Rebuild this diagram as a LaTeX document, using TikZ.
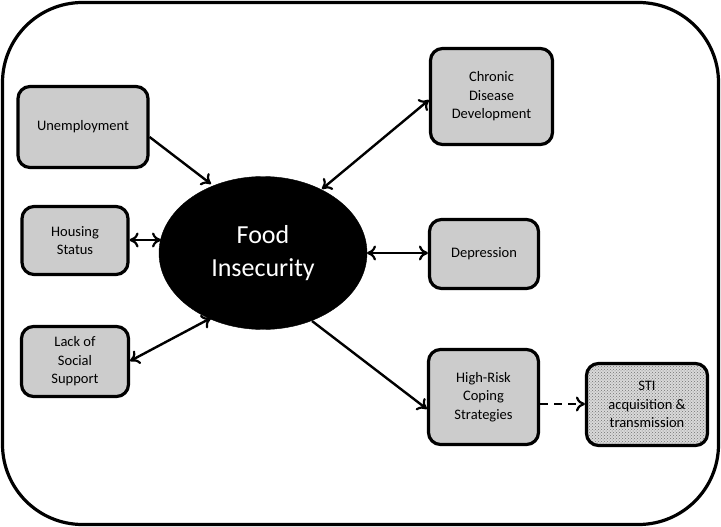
\documentclass[tikz,border=0pt]{standalone}
\usepackage{fontspec}
\setmainfont{Carlito}
\usetikzlibrary{patterns,shapes.geometric,arrows.meta}
\begin{document}
\begin{tikzpicture}[x=1pt,y=-1pt,
  box/.style={draw=black,line width=3.2pt,rounded corners=12pt,fill=black!20,align=center,
    font=\fontsize{14.5}{18.5}\selectfont,inner sep=0pt},
  tip/.tip={To[length=9pt,width=15pt,line width=2.2pt]},
  conn/.style={line width=2.4pt,-tip},
  bconn/.style={line width=2.4pt,tip-tip}]
\useasboundingbox (0,0) rectangle (721,527);
\draw[line width=3.2pt,rounded corners=80pt] (2.5,2.5) rectangle (718.5,524.5);
\node[box,minimum width=130pt,minimum height=81pt] (u) at (83,127) {Unemployment};
\node[box,minimum width=106pt,minimum height=68pt] (h) at (75,240.5) {Housing\\Status};
\node[box,minimum width=107pt,minimum height=70pt] (l) at (75,361.5) {Lack of\\Social\\Support};
\node[box,minimum width=122pt,minimum height=96pt] (c) at (491.5,96.5) {Chronic\\Disease\\Development};
\node[box,minimum width=109pt,minimum height=69pt] (d) at (484,254) {Depression};
\node[box,minimum width=110pt,minimum height=95pt] (r) at (483.5,397) {High-Risk\\Coping\\Strategies};
\node[box,fill=none,preaction={fill=black!15},pattern=crosshatch dots,pattern color=black!55,
  minimum width=121pt,minimum height=82pt] (s) at (647,404.5) {STI\\acquisition \&\\transmission};
\node[ellipse,fill=black,draw=black,minimum width=208pt,minimum height=153pt,inner sep=0pt,
  text=white,align=center,font=\fontsize{26}{33}\selectfont] (f) at (263,253) {Food\\Insecurity};
\coordinate (f1) at (211,184);
\coordinate (f2) at (322,189);
\coordinate (f3) at (211,318);
\coordinate (f4) at (312,321);
\coordinate (fh) at (161,240);
\coordinate (fd) at (367,253);
\draw[conn] (u.east |- 0,137) -- (f1);
\draw[bconn] (h.east |- fh) -- (fh);
\draw[bconn] (l.east |- 0,361) -- (f3);
\draw[bconn] (c.west |- 0,100) -- (f2);
\draw[bconn] (d.west |- fd) -- (fd);
\draw[conn] (f4) -- (r.west |- 0,409);
\draw[line width=2.4pt,dash pattern=on 8pt off 6pt,-tip] (r.east |- 0,404) -- (s.west |- 0,404);
\end{tikzpicture}
\end{document}
